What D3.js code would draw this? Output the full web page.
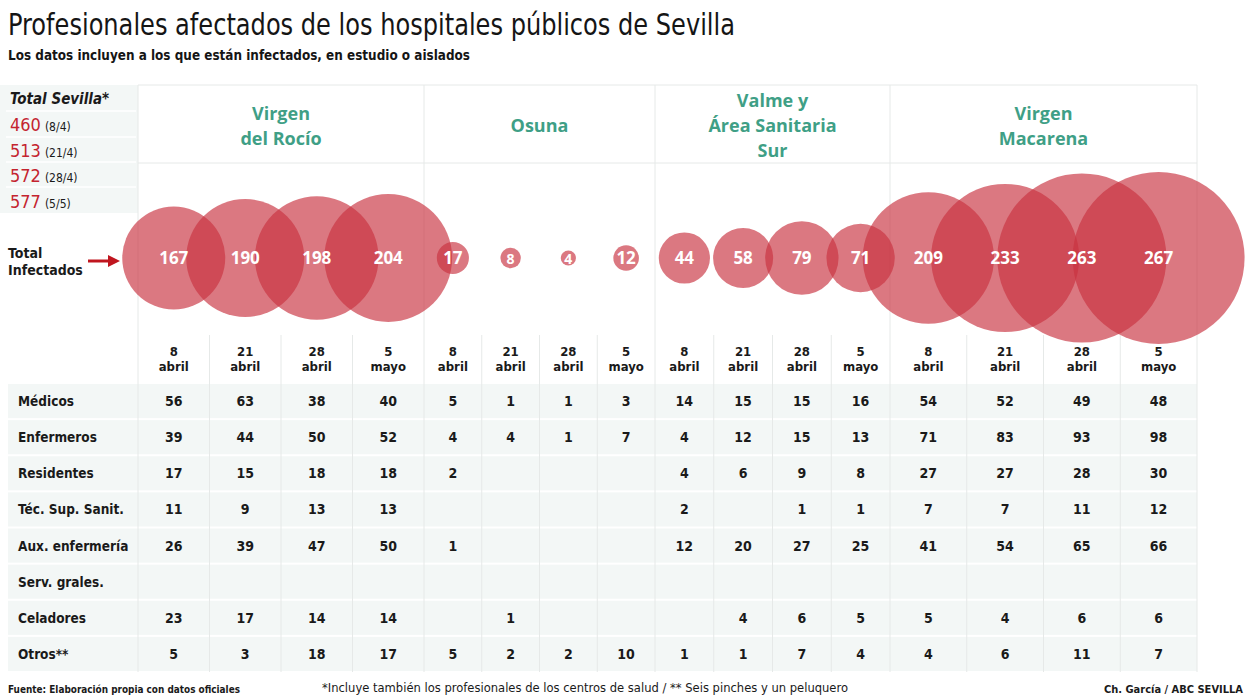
<!DOCTYPE html>
<html>
<head>
<meta charset="utf-8">
<script src="https://cdn.jsdelivr.net/npm/d3@7"></script>
<style>
  html, body { margin: 0; padding: 0; background: #fff; }
  svg { display: block; }
</style>
</head>
<body>
<svg id="chart" width="1248" height="698"></svg>
<script>
// ---------------- DATA ----------------
const title = "Profesionales afectados de los hospitales públicos de Sevilla";
const subtitle = "Los datos incluyen a los que están infectados, en estudio o aislados";

const hospitals = ["Virgen del Rocío", "Osuna", "Valme y Área Sanitaria Sur", "Virgen Macarena"];
const hospitalLines = [["Virgen", "del Rocío"], ["Osuna"], ["Valme y", "Área Sanitaria", "Sur"], ["Virgen", "Macarena"]];

const dates = ["8 abril", "21 abril", "28 abril", "5 mayo"];
const dateDay = ["8", "21", "28", "5"];
const dateMonth = ["abril", "abril", "abril", "mayo"];

// Total infectados per hospital and date
const totalRocio    = [167, 190, 198, 204];
const totalOsuna    = [17, 8, 4, 12];
const totalValme    = [44, 58, 79, 71];
const totalMacarena = [209, 233, 263, 267];

const categories = ["Médicos", "Enfermeros", "Residentes", "Téc. Sup. Sanit.", "Aux. enfermería", "Serv. grales.", "Celadores", "Otros**"];

// rows = categories, columns = dates (null = empty cell)
const tableRocio = [
  [56, 63, 38, 40],
  [39, 44, 50, 52],
  [17, 15, 18, 18],
  [11, 9, 13, 13],
  [26, 39, 47, 50],
  [null, null, null, null],
  [23, 17, 14, 14],
  [5, 3, 18, 17]
];
const tableOsuna = [
  [5, 1, 1, 3],
  [4, 4, 1, 7],
  [2, null, null, null],
  [null, null, null, null],
  [1, null, null, null],
  [null, null, null, null],
  [null, 1, null, null],
  [5, 2, 2, 10]
];
const tableValme = [
  [14, 15, 15, 16],
  [4, 12, 15, 13],
  [4, 6, 9, 8],
  [2, null, 1, 1],
  [12, 20, 27, 25],
  [null, null, null, null],
  [null, 4, 6, 5],
  [1, 1, 7, 4]
];
const tableMacarena = [
  [54, 52, 49, 48],
  [71, 83, 93, 98],
  [27, 27, 28, 30],
  [7, 7, 11, 12],
  [41, 54, 65, 66],
  [null, null, null, null],
  [5, 4, 6, 6],
  [4, 6, 11, 7]
];

const sevillaTotals = [460, 513, 572, 577];
const sevillaDates = ["(8/4)", "(21/4)", "(28/4)", "(5/5)"];

const totalsLabel = "Total Sevilla*";
const infectadosLabel = ["Total", "Infectados"];
const sourceText = "Fuente: Elaboración propia con datos oficiales";
const noteText = "*Incluye también los profesionales de los centros de salud / ** Seis pinches y un peluquero";
const creditText = "Ch. García / ABC SEVILLA";

// ---------------- LAYOUT ----------------
const totals = [totalRocio, totalOsuna, totalValme, totalMacarena];
const tables = [tableRocio, tableOsuna, tableValme, tableMacarena];

const FONT_N = "'Liberation Sans Narrow', 'DejaVu Sans Condensed', sans-serif";
const FONT_H = "'Open Sans', 'Liberation Sans', sans-serif";
const TEAL = "#3f9f86";
const RED = "#c9323f";
const GRID = "#e6e9e8";
const BAND = "#f3f7f6";

const svg = d3.select("#chart");

const groupX = d3.scaleOrdinal().domain(hospitals).range([[138, 424], [424, 655], [655, 890], [890, 1197]]);
const colX = hospitals.map(h => d3.scaleBand().domain(dates).range(groupX(h)));
const rowY = d3.scaleBand().domain(categories).range([383, 672]);
const rScale = d3.scaleLinear().domain([0, 20, 80, 170, 270]).range([5, 18, 37, 52, 87]);
const bubbleY = 258;

// title
svg.append("text").attr("x", 8).attr("y", 35)
  .attr("font-family", FONT_N).attr("font-size", 30).attr("fill", "#151515")
  .attr("textLength", 727).attr("lengthAdjust", "spacingAndGlyphs")
  .text(title);
svg.append("text").attr("x", 8).attr("y", 60)
  .attr("font-family", FONT_N).attr("font-size", 14).attr("font-weight", "bold").attr("fill", "#151515")
  .attr("textLength", 462).attr("lengthAdjust", "spacingAndGlyphs")
  .text(subtitle);

// Total Sevilla box
svg.append("rect").attr("x", 0).attr("y", 85).attr("width", 138).attr("height", 128).attr("fill", BAND);
[111, 137, 162, 187].forEach(y => {
  svg.append("line").attr("x1", 6).attr("x2", 136).attr("y1", y).attr("y2", y)
    .attr("stroke", "#ffffff").attr("stroke-width", 1.5);
});
svg.append("text").attr("x", 10).attr("y", 104)
  .attr("font-family", FONT_N).attr("font-size", 15).attr("font-weight", "bold").attr("font-style", "italic")
  .attr("fill", "#1a1a1a").text(totalsLabel);
sevillaTotals.forEach((v, i) => {
  const t = svg.append("text").attr("x", 10).attr("y", 131 + i * 25.5)
    .attr("font-family", FONT_N).attr("fill", "#1a1a1a");
  t.append("tspan").attr("font-size", 18).attr("fill", "#c4242f").text(v);
  t.append("tspan").attr("font-size", 12).attr("dx", 4).text(sevillaDates[i]);
});

// frame lines top area
svg.append("line").attr("x1", 138).attr("x2", 1197).attr("y1", 85).attr("y2", 85).attr("stroke", GRID);
svg.append("line").attr("x1", 138).attr("x2", 1197).attr("y1", 163).attr("y2", 163).attr("stroke", GRID);

// table bands
categories.forEach(c => {
  svg.append("rect").attr("x", 8).attr("y", rowY(c) + 1).attr("width", 1189).attr("height", rowY.bandwidth() - 2)
    .attr("fill", BAND);
});

// column lines (table & dates)
hospitals.forEach((h, gi) => {
  dates.forEach((d, di) => {
    if (di > 0) {
      const x = colX[gi](d);
      svg.append("line").attr("x1", x).attr("x2", x).attr("y1", 335).attr("y2", 672).attr("stroke", GRID);
    }
  });
});
// group lines
[138, 424, 655, 890, 1197].forEach(x => {
  svg.append("line").attr("x1", x).attr("x2", x).attr("y1", 85).attr("y2", 672).attr("stroke", GRID);
});

// hospital headers
hospitals.forEach((h, gi) => {
  const [x0, x1] = groupX(h);
  const lines = hospitalLines[gi];
  const cy = 126;
  const lh = 25;
  const startY = cy - (lines.length - 1) * lh / 2 + 6;
  lines.forEach((ln, li) => {
    svg.append("text").attr("x", (x0 + x1) / 2).attr("y", startY + li * lh)
      .attr("text-anchor", "middle").attr("font-family", FONT_H).attr("font-weight", 700)
      .attr("font-size", 18).attr("fill", TEAL).text(ln);
  });
});

// "Total Infectados" + arrow
infectadosLabel.forEach((t, i) => {
  svg.append("text").attr("x", 8).attr("y", 258 + i * 17)
    .attr("font-family", FONT_N).attr("font-size", 14).attr("font-weight", "bold").attr("fill", "#1a1a1a").text(t);
});
svg.append("defs").append("marker").attr("id", "ah").attr("viewBox", "0 0 10 10")
  .attr("refX", 5).attr("refY", 5).attr("markerWidth", 4).attr("markerHeight", 4).attr("orient", "auto")
  .append("path").attr("d", "M0,0 L10,5 L0,10 z").attr("fill", "#c0161f");
svg.append("line").attr("x1", 88).attr("x2", 114).attr("y1", 261).attr("y2", 261)
  .attr("stroke", "#c0161f").attr("stroke-width", 3).attr("marker-end", "url(#ah)");

// bubbles
const bubbleData = [];
hospitals.forEach((h, gi) => {
  dates.forEach((d, di) => {
    bubbleData.push({ x: colX[gi](d) + colX[gi].bandwidth() / 2, v: totals[gi][di] });
  });
});
svg.append("g").selectAll("circle").data(bubbleData).join("circle")
  .attr("cx", d => d.x).attr("cy", bubbleY).attr("r", d => rScale(d.v))
  .attr("fill", RED).attr("fill-opacity", 0.66);
svg.append("g").selectAll("text").data(bubbleData).join("text")
  .attr("x", d => d.x).attr("y", bubbleY + 6).attr("text-anchor", "middle")
  .attr("font-family", FONT_H).attr("font-weight", 700)
  .attr("font-size", d => d.v < 10 ? 14 : 17).attr("fill", "#ffffff").text(d => d.v);

// date labels
hospitals.forEach((h, gi) => {
  dates.forEach((d, di) => {
    const x = colX[gi](d) + colX[gi].bandwidth() / 2;
    svg.append("text").attr("x", x).attr("y", 356).attr("text-anchor", "middle")
      .attr("font-family", FONT_N).attr("font-weight", "bold").attr("font-size", 13).attr("fill", "#1a1a1a")
      .text(dateDay[di]);
    svg.append("text").attr("x", x).attr("y", 371).attr("text-anchor", "middle")
      .attr("font-family", FONT_N).attr("font-weight", "bold").attr("font-size", 13).attr("fill", "#1a1a1a")
      .text(dateMonth[di]);
  });
});

// row labels
categories.forEach(c => {
  svg.append("text").attr("x", 18).attr("y", rowY(c) + rowY.bandwidth() / 2 + 5)
    .attr("font-family", FONT_N).attr("font-weight", "bold").attr("font-size", 13.5).attr("fill", "#1a1a1a").text(c);
});

// table values
hospitals.forEach((h, gi) => {
  categories.forEach((c, ri) => {
    dates.forEach((d, di) => {
      const v = tables[gi][ri][di];
      if (v === null) return;
      svg.append("text").attr("x", colX[gi](d) + colX[gi].bandwidth() / 2)
        .attr("y", rowY(c) + rowY.bandwidth() / 2 + 5).attr("text-anchor", "middle")
        .attr("font-family", FONT_N).attr("font-weight", "bold").attr("font-size", 14).attr("fill", "#1a1a1a")
        .text(v);
    });
  });
});

// footer
svg.append("text").attr("x", 8).attr("y", 693)
  .attr("font-family", FONT_N).attr("font-weight", "bold").attr("font-size", 11).attr("fill", "#1a1a1a")
  .attr("textLength", 232).attr("lengthAdjust", "spacingAndGlyphs").text(sourceText);
svg.append("text").attr("x", 322).attr("y", 692)
  .attr("font-family", FONT_N).attr("font-size", 13).attr("fill", "#1a1a1a")
  .attr("textLength", 526).attr("lengthAdjust", "spacingAndGlyphs").text(noteText);
svg.append("text").attr("x", 1243).attr("y", 693).attr("text-anchor", "end")
  .attr("font-family", FONT_N).attr("font-weight", "bold").attr("font-size", 11).attr("fill", "#1a1a1a")
  .text(creditText);
</script>
</body>
</html>
